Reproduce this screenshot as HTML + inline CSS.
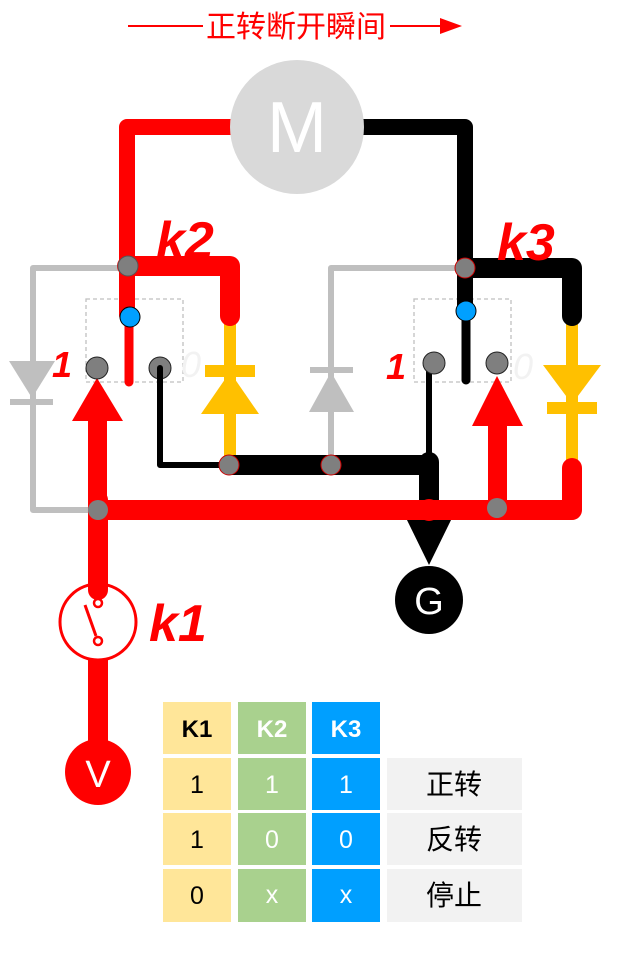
<!DOCTYPE html>
<html><head><meta charset="utf-8"><style>
html,body{margin:0;padding:0;background:#fff}
svg{display:block}
text{font-family:"Liberation Sans","Noto Sans CJK SC",sans-serif}
</style></head><body>
<svg width="629" height="965" viewBox="0 0 629 965" xmlns="http://www.w3.org/2000/svg">
<!-- title -->
<line x1="128" y1="26" x2="203" y2="26" stroke="#f00" stroke-width="2"/>
<line x1="390" y1="26" x2="445" y2="26" stroke="#f00" stroke-width="2"/>
<polygon points="440,18 462,26 440,34" fill="#f00"/>
<text x="296" y="37" font-size="30" fill="#f00" text-anchor="middle">正转断开瞬间</text>

<!-- gray left diode loop -->
<polyline points="127,268 33,268 33,510 98,510" fill="none" stroke="#bfbfbf" stroke-width="6" stroke-linejoin="round"/>
<rect x="16" y="314" width="34" height="140" fill="#fff"/>
<line x1="33" y1="300" x2="33" y2="460" stroke="#bfbfbf" stroke-width="6"/>
<polygon points="9,361 55,361 32,398" fill="#bfbfbf"/>
<rect x="10" y="399" width="43" height="6" fill="#bfbfbf"/>
<!-- gray right diode -->
<polyline points="465,268 331,268 331,465" fill="none" stroke="#bfbfbf" stroke-width="6" stroke-linejoin="round"/>
<polygon points="309,412 354,412 331,372" fill="#bfbfbf"/>
<rect x="310" y="367" width="43" height="6" fill="#bfbfbf"/>

<!-- dashed boxes -->
<rect x="86" y="299" width="97" height="83" fill="none" stroke="#bfbfbf" stroke-width="1.3" stroke-dasharray="4,3"/>
<rect x="414" y="299" width="97" height="83" fill="none" stroke="#bfbfbf" stroke-width="1.3" stroke-dasharray="4,3"/>

<!-- yellow left -->
<line x1="230" y1="318" x2="230" y2="465" stroke="#ffc000" stroke-width="12"/>
<rect x="205" y="365" width="50" height="12" fill="#ffc000"/>
<polygon points="201,414 259,414 230,372" fill="#ffc000"/>
<!-- yellow right -->
<line x1="572" y1="318" x2="572" y2="465" stroke="#ffc000" stroke-width="12"/>
<polygon points="543,365 601,365 572,404" fill="#ffc000"/>
<rect x="547" y="402" width="50" height="12" fill="#ffc000"/>

<!-- red top-left wire -->
<polyline points="236,127 127,127 127,315" fill="none" stroke="#f00" stroke-width="16" stroke-linecap="round" stroke-linejoin="round"/>
<polyline points="127,266 230,266 230,316" fill="none" stroke="#f00" stroke-width="20" stroke-linecap="round" stroke-linejoin="round"/>
<line x1="129" y1="320" x2="129" y2="382" stroke="#f00" stroke-width="9" stroke-linecap="round"/>

<!-- black top-right wire -->
<polyline points="360,127 465,127 465,305" fill="none" stroke="#000" stroke-width="16" stroke-linecap="round" stroke-linejoin="round"/>
<polyline points="465,268 572,268 572,316" fill="none" stroke="#000" stroke-width="20" stroke-linecap="round" stroke-linejoin="round"/>
<line x1="466" y1="310" x2="466" y2="380" stroke="#000" stroke-width="9" stroke-linecap="round"/>

<!-- black lower wires -->
<polyline points="160,368 160,465 229,465" fill="none" stroke="#000" stroke-width="6" stroke-linecap="round" stroke-linejoin="round"/>
<line x1="229" y1="465" x2="425" y2="465" stroke="#000" stroke-width="20"/>
<line x1="429" y1="370" x2="429" y2="460" stroke="#000" stroke-width="6"/>
<line x1="429" y1="462" x2="429" y2="510" stroke="#000" stroke-width="20" stroke-linecap="round"/>
<polygon points="406,518 452,518 429,565" fill="#000"/>
<circle cx="429" cy="600" r="34" fill="#000"/>
<text x="429" y="614" font-size="38" fill="#fff" text-anchor="middle">G</text>

<!-- red bottom bus -->
<polyline points="98,510 572,510 572,468" fill="none" stroke="#f00" stroke-width="20" stroke-linecap="round" stroke-linejoin="round"/>
<circle cx="429" cy="510" r="11" fill="#f00"/>
<!-- red arrows -->
<rect x="88" y="415" width="19" height="175" fill="#f00"/>
<polygon points="72,421 123,421 97,378" fill="#f00"/>
<rect x="488" y="420" width="19" height="92" fill="#f00"/>
<polygon points="472,426 523,426 497,376" fill="#f00"/>
<line x1="98" y1="500" x2="98" y2="585" stroke="#f00" stroke-width="20" stroke-linecap="round"/>
<line x1="98" y1="660" x2="98" y2="770" stroke="#f00" stroke-width="20"/>

<!-- dots -->
<g stroke-width="1">
<circle cx="128" cy="266" r="10" fill="#7f7f7f" stroke="#555"/>
<circle cx="465" cy="268" r="10" fill="#7f7f7f" stroke="#c00"/>
<circle cx="130" cy="317" r="10" fill="#00a0ff" stroke="#000"/>
<circle cx="466" cy="311" r="10" fill="#00a0ff" stroke="#000"/>
<circle cx="97" cy="368" r="11" fill="#7f7f7f" stroke="#222"/>
<circle cx="160" cy="368" r="11" fill="#7f7f7f" stroke="#222"/>
<circle cx="434" cy="363" r="11" fill="#7f7f7f" stroke="#222"/>
<circle cx="497" cy="363" r="11" fill="#7f7f7f" stroke="#222"/>
<circle cx="229" cy="465" r="10" fill="#7f7f7f" stroke="#c00"/>
<circle cx="331" cy="465" r="10" fill="#7f7f7f" stroke="#c00"/>
<circle cx="98" cy="510" r="10" fill="#7f7f7f" stroke="none"/>
<circle cx="497" cy="508" r="10" fill="#7f7f7f" stroke="none"/>
</g>
<line x1="160" y1="368" x2="160" y2="378" stroke="#000" stroke-width="6" stroke-linecap="round"/>

<!-- motor -->
<circle cx="297" cy="127" r="67" fill="#d9d9d9"/>
<text x="297" y="152" font-size="72" fill="#fff" text-anchor="middle">M</text>

<!-- k1 switch -->
<circle cx="98" cy="622" r="38" fill="#fff" stroke="#f00" stroke-width="3"/>
<line x1="98" y1="585" x2="98" y2="590" stroke="#f00" stroke-width="20" stroke-linecap="round"/>
<line x1="85" y1="605" x2="96" y2="636" stroke="#f00" stroke-width="3"/>
<circle cx="98" cy="603" r="4" fill="#fff" stroke="#f00" stroke-width="2.5"/>
<circle cx="98" cy="641" r="4" fill="#fff" stroke="#f00" stroke-width="2.5"/>
<circle cx="98" cy="772" r="33" fill="#f00"/>
<text x="98" y="787" font-size="38" fill="#fff" text-anchor="middle">V</text>

<!-- labels -->
<g font-weight="bold" font-style="italic" fill="#f00">
<text x="156" y="258" font-size="52">k2</text>
<text x="497" y="260" font-size="52">k3</text>
<text x="149" y="641" font-size="52">k1</text>
<text x="52" y="377" font-size="36">1</text>
<text x="386" y="379" font-size="36">1</text>
</g>
<g font-style="italic" fill="#f2f2f2">
<text x="181" y="377" font-size="36">0</text>
<text x="513" y="379" font-size="36">0</text>
</g>

<!-- table -->
<g font-size="25" text-anchor="middle">
<rect x="163" y="702" width="68" height="52" fill="#ffe699"/>
<rect x="238" y="702" width="68" height="52" fill="#a9d18e"/>
<rect x="312" y="702" width="68" height="52" fill="#009fff"/>
<text x="197" y="737" font-weight="bold" fill="#000" font-size="24">K1</text>
<text x="272" y="737" font-weight="bold" fill="#fff" font-size="24">K2</text>
<text x="346" y="737" font-weight="bold" fill="#fff" font-size="24">K3</text>

<rect x="163" y="758" width="68" height="52" fill="#ffe699"/>
<rect x="238" y="758" width="68" height="52" fill="#a9d18e"/>
<rect x="312" y="758" width="68" height="52" fill="#009fff"/>
<rect x="387" y="758" width="135" height="52" fill="#f2f2f2"/>
<text x="197" y="793" fill="#000">1</text>
<text x="272" y="793" fill="#fff">1</text>
<text x="346" y="793" fill="#fff">1</text>
<text x="454" y="794" fill="#000" font-size="28">正转</text>

<rect x="163" y="813" width="68" height="52" fill="#ffe699"/>
<rect x="238" y="813" width="68" height="52" fill="#a9d18e"/>
<rect x="312" y="813" width="68" height="52" fill="#009fff"/>
<rect x="387" y="813" width="135" height="52" fill="#f2f2f2"/>
<text x="197" y="848" fill="#000">1</text>
<text x="272" y="848" fill="#fff">0</text>
<text x="346" y="848" fill="#fff">0</text>
<text x="454" y="849" fill="#000" font-size="28">反转</text>

<rect x="163" y="869" width="68" height="53" fill="#ffe699"/>
<rect x="238" y="869" width="68" height="53" fill="#a9d18e"/>
<rect x="312" y="869" width="68" height="53" fill="#009fff"/>
<rect x="387" y="869" width="135" height="53" fill="#f2f2f2"/>
<text x="197" y="904" fill="#000">0</text>
<text x="272" y="903" fill="#fff">x</text>
<text x="346" y="903" fill="#fff">x</text>
<text x="454" y="905" fill="#000" font-size="28">停止</text>
</g>
</svg>
</body></html>
